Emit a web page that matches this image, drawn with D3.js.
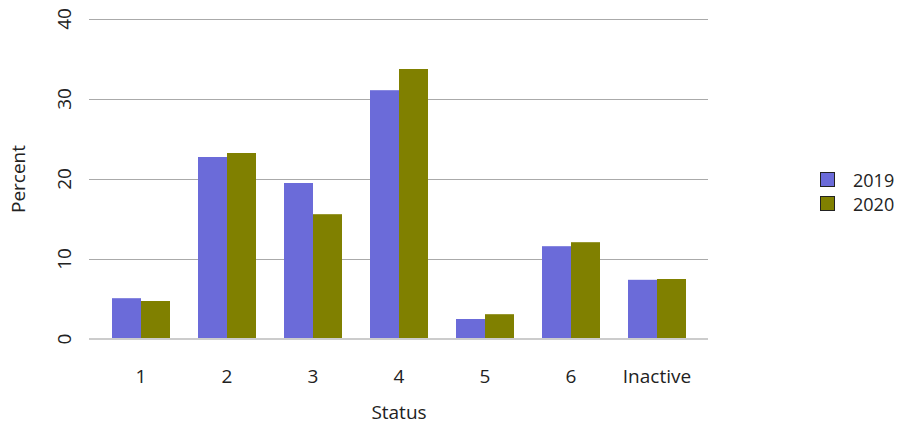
<!DOCTYPE html>
<html>
<head>
<meta charset="utf-8">
<script src="https://cdn.jsdelivr.net/npm/d3@7"></script>
<style>
  html, body { margin: 0; padding: 0; background: #fff; }
  svg { display: block; font-family: "Open Sans", "Noto Sans", sans-serif; }
</style>
</head>
<body>
<svg id="chart" width="902" height="425"></svg>
<script>
// Share of members by status, 2019 vs 2020
const categories = ["1", "2", "3", "4", "5", "6", "Inactive"];
const seriesNames = ["2019", "2020"];
const values2019 = [5.1, 22.75, 19.5, 31.1, 2.5, 11.6, 7.4];
const values2020 = [4.75, 23.25, 15.6, 33.75, 3.1, 12.1, 7.5];
const yTicks = [0, 10, 20, 30, 40];
const colors = ["#6b6bd9", "#808000"];

const rows = categories.map((c, i) => ({ cat: c, vals: [values2019[i], values2020[i]] }));

const svg = d3.select("#chart");
const fontSize = 19;

const gridLeft = 89, gridRight = 708;
const plotTop = 19, plotBottom = 339;

const y = d3.scaleLinear().domain([0, 40]).range([plotBottom, plotTop]);
const x = d3.scaleBand().domain(categories).range([98, 700]).paddingInner(0.3256).paddingOuter(0.1628);
const xs = d3.scaleBand().domain(seriesNames).range([0, x.bandwidth()]);

// horizontal gridlines
svg.append("g")
  .selectAll("line")
  .data(yTicks.filter(t => t > 0))
  .join("line")
  .attr("x1", gridLeft).attr("x2", gridRight)
  .attr("y1", d => y(d)).attr("y2", d => y(d))
  .attr("stroke", "#aaaaaa").attr("stroke-width", 1)
  .attr("shape-rendering", "crispEdges");

// bars
const groups = svg.append("g")
  .selectAll("g")
  .data(rows)
  .join("g")
  .attr("transform", d => `translate(${x(d.cat)},0)`);

groups.selectAll("rect")
  .data(d => d.vals.map((v, i) => ({ key: seriesNames[i], v, i })))
  .join("rect")
  .attr("x", d => xs(d.key))
  .attr("width", xs.bandwidth())
  .attr("y", d => y(d.v))
  .attr("height", d => y(0) - y(d.v))
  .attr("fill", d => colors[d.i]);

// baseline
svg.append("line")
  .attr("x1", gridLeft).attr("x2", gridRight)
  .attr("y1", y(0)).attr("y2", y(0))
  .attr("stroke", "#cccccc").attr("stroke-width", 2);

// y tick labels (rotated)
svg.append("g")
  .selectAll("text")
  .data(yTicks)
  .join("text")
  .attr("transform", d => `translate(71,${y(d)}) rotate(-90)`)
  .attr("text-anchor", "middle")
  .attr("font-size", fontSize)
  .attr("fill", "#222")
  .text(d => d);

// x tick labels
svg.append("g")
  .selectAll("text")
  .data(categories)
  .join("text")
  .attr("x", d => x(d) + x.bandwidth() / 2)
  .attr("y", 383)
  .attr("text-anchor", "middle")
  .attr("font-size", fontSize)
  .attr("fill", "#222")
  .text(d => d);

// axis titles
svg.append("text")
  .attr("x", 399).attr("y", 419)
  .attr("text-anchor", "middle")
  .attr("font-size", fontSize)
  .attr("fill", "#222")
  .text("Status");

svg.append("text")
  .attr("transform", `translate(25,${(plotTop + plotBottom) / 2}) rotate(-90)`)
  .attr("text-anchor", "middle")
  .attr("font-size", fontSize)
  .attr("fill", "#222")
  .text("Percent");

// legend
const legend = svg.append("g")
  .selectAll("g")
  .data(seriesNames)
  .join("g")
  .attr("transform", (d, i) => `translate(820,${172 + i * 24})`);

legend.append("rect")
  .attr("x", 0.5).attr("y", 0.5)
  .attr("width", 14).attr("height", 14)
  .attr("fill", (d, i) => colors[i])
  .attr("stroke", "#222").attr("stroke-width", 1);

legend.append("text")
  .attr("x", 33).attr("y", 15)
  .attr("font-size", 18)
  .attr("fill", "#222")
  .text(d => d);
</script>
</body>
</html>
